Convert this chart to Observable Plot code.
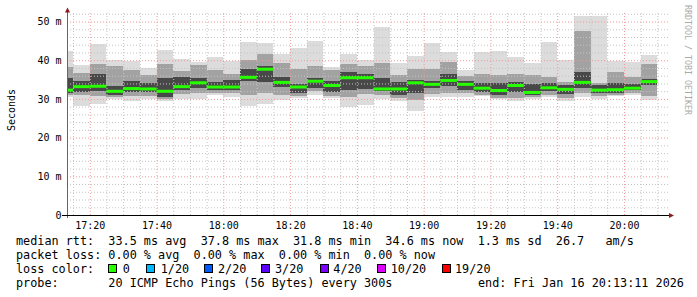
<!DOCTYPE html>
<html><head><meta charset="utf-8">
<script src="https://cdn.jsdelivr.net/npm/d3@7"></script>
<script src="https://cdn.jsdelivr.net/npm/@observablehq/plot@0.6"></script>
<style>
body{margin:0;background:#fff;}
#wrap{position:relative;width:697px;height:297px;overflow:hidden;font-family:"DejaVu Sans Mono",monospace;}
#wrap svg{position:absolute;left:0;top:0;}
.lg{position:absolute;left:16px;font-size:11.8px;line-height:14px;white-space:pre;color:#000;margin:0;}
.sq{position:absolute;width:7px;height:7px;border:1px solid #000;top:264px;}
.sl{position:absolute;font-size:11.8px;line-height:14px;white-space:pre;color:#000;top:262px;}
</style></head>
<body><div id="wrap"></div>
<script>
// 5-minute slots (start times), Fri Jan 16 2026
const slots = ["17:10","17:15","17:20","17:25","17:30","17:35","17:40","17:45","17:50","17:55",
  "18:00","18:05","18:10","18:15","18:20","18:25","18:30","18:35","18:40","18:45",
  "18:50","18:55","19:00","19:05","19:10","19:15","19:20","19:25","19:30","19:35",
  "19:40","19:45","19:50","19:55","20:00","20:05"];
// RTT in ms: smoke envelope (min..max), middle band, inner band, median
const maxV = [42.3,38.7,44.1,40.0,39.8,38.1,42.6,40.4,39.6,40.9,39.9,44.8,44.4,41.6,43.2,44.9,38.3,41.6,40.0,48.5,39.3,41.1,44.5,42.2,37.5,42.2,42.4,40.9,39.3,44.7,40.0,51.5,51.5,39.8,39.6,41.3];
const hi2  = [38.3,36.6,39.0,38.5,37.4,36.2,38.9,37.2,38.8,37.4,36.4,40.0,41.5,39.4,37.8,38.5,37.5,39.1,38.6,39.2,36.3,37.8,37.8,39.5,36.0,36.5,36.1,36.5,36.2,35.6,34.3,47.6,34.0,36.9,35.6,39.1];
const hi3  = [35.3,34.6,36.4,33.3,34.7,34.0,35.5,35.6,35.3,34.4,35.0,37.8,38.5,35.6,33.9,35.5,34.5,36.9,36.5,35.5,34.3,34.8,34.6,36.5,34.6,34.1,34.0,34.3,33.9,34.0,33.6,36.9,33.5,34.0,33.9,35.2];
const med  = [32.4,33.3,33.4,32.1,32.8,32.7,32.1,33.3,34.3,33.2,33.2,35.7,37.8,34.4,33.2,34.7,33.6,35.6,35.6,32.7,32.7,34.3,33.9,34.9,33.9,32.9,32.3,33.6,31.8,33.0,32.6,34.4,32.4,32.5,32.9,34.6];
const lo3  = [31.6,31.9,32.0,31.1,31.8,31.7,30.6,32.3,32.7,32.2,32.3,34.5,34.3,33.0,31.4,32.8,31.8,32.2,32.6,32.0,30.9,31.4,32.8,33.3,32.3,31.8,31.0,31.8,31.1,32.0,31.3,32.7,31.6,31.6,32.2,33.5];
const lo2  = [31.0,31.0,30.8,30.6,30.8,30.8,30.0,31.3,31.5,31.6,31.4,30.9,31.5,30.9,30.8,32.0,30.8,30.6,31.2,31.0,30.3,29.8,31.3,31.4,31.4,31.1,30.3,30.2,30.5,31.1,30.3,31.6,30.8,31.1,31.5,30.8];
const minV = [30.4,28.2,28.8,29.9,29.5,29.9,29.5,29.9,30.0,31.1,30.6,28.2,28.7,29.8,30.2,31.0,30.3,27.8,28.3,30.0,29.4,27.0,30.4,30.6,30.5,30.7,29.9,29.4,30.0,30.4,29.5,30.6,29.9,30.8,30.9,29.8];
const yTicks = [0,10,20,30,40,50];
const yTickLabels = ["0","10 m","20 m","30 m","40 m","50 m"];
const lossLabels = ["0","1/20","2/20","3/20","4/20","10/20","19/20"];
const lossColors = ["#26ff00","#00b8ff","#0059ff","#5e00ff","#7e00ff","#dd00ff","#ff0000"];
const legendLines = [
  "median rtt:  33.5 ms avg  37.8 ms max  31.8 ms min  34.6 ms now  1.3 ms sd  26.7   am/s",
  "packet loss: 0.00 % avg  0.00 % max  0.00 % min  0.00 % now",
  "loss color:",
  "probe:       20 ICMP Echo Pings (56 Bytes) every 300s"];
const endText = "end: Fri Jan 16 20:13:11 2026";

const T = (h, m, s = 0) => new Date(Date.UTC(2026, 0, 16, h, m, s));
const rows = slots.map((s, i) => {
  const [h, m] = s.split(":").map(Number);
  const a = T(h, m);
  return {x1: a, x2: new Date(+a + 300000), max: maxV[i], hi2: hi2[i], hi3: hi3[i], med: med[i], lo3: lo3[i], lo2: lo2[i], min: minV[i]};
});
const xDomain = [T(17, 13, 11), T(20, 13, 11)];
const majorX = d3.utcMinute.every(20).range(xDomain[0], xDomain[1]);
const minorX = d3.utcMinute.every(5).range(xDomain[0], xDomain[1]).filter(d => d.getUTCMinutes() % 20 !== 0);
const minorY = d3.range(2, 53, 2).filter(v => v % 10 !== 0);
const crisp = {shapeRendering: "crispEdges", inset: 0, clip: true};

const plot = Plot.plot({
  width: 697, height: 235,
  marginLeft: 67, marginRight: 29, marginTop: 13, marginBottom: 20,
  x: {type: "utc", domain: xDomain},
  y: {domain: [0, 52.2]},
  style: {fontFamily: "DejaVu Sans Mono, monospace", fontSize: "10px", color: "#000", background: "transparent", overflow: "visible"},
  marks: [
    Plot.rect(rows, {x1: "x1", x2: "x2", y1: "min", y2: "max", fill: "#dcdcdc", ...crisp}),
    Plot.rect(rows, {x1: "x1", x2: "x2", y1: "lo2", y2: "hi2", fill: "#a2a2a2", ...crisp}),
    Plot.rect(rows, {x1: "x1", x2: "x2", y1: "lo3", y2: "hi3", fill: "#484848", ...crisp}),
    Plot.ruleY(minorY, {stroke: "#c4c4c4", strokeDasharray: "1,2"}),
    Plot.ruleX(minorX, {stroke: "#c4c4c4", strokeDasharray: "1,2"}),
    Plot.ruleY(yTicks.filter(v => v > 0), {stroke: "#ef9a9a", strokeDasharray: "1,2"}),
    Plot.ruleX(majorX, {stroke: "#ef9a9a", strokeDasharray: "1,2"}),
    Plot.ruleY(rows, {x1: "x1", x2: "x2", y: "med", stroke: "#26ff00", strokeWidth: 3, clip: true}),
    Plot.axisY({ticks: yTicks, tickFormat: (d, i) => yTickLabels[yTicks.indexOf(d)], tickSize: 0, tickPadding: 6, label: null}),
    Plot.axisX({ticks: majorX, tickFormat: d3.utcFormat("%H:%M"), tickSize: 0, tickPadding: 6, label: null})
  ]
});
const wrap = document.getElementById("wrap");
wrap.appendChild(plot);

// axis lines, arrows, labels
const svg = d3.select(plot);
const xs = plot.scale("x"), ys = plot.scale("y");
const x0 = xs.apply(xDomain[0]), x1 = xs.apply(xDomain[1]), yb = ys.apply(0);
svg.append("line").attr("x1", x0 + 0.5).attr("x2", x0 + 0.5).attr("y1", yb + 3).attr("y2", 9).attr("stroke", "#666");
svg.append("line").attr("x1", x0 - 5).attr("x2", x1 + 2).attr("y1", yb + 0.5).attr("y2", yb + 0.5).attr("stroke", "#000");
svg.append("path").attr("d", `M${x0 - 2},${12.5}L${x0 + 3},${12.5}L${x0 + 0.5},${7.5}Z`).attr("fill", "#8b1a1a");
svg.append("path").attr("d", `M${x1 + 1},${yb - 2}L${x1 + 1},${yb + 3}L${x1 + 6},${yb + 0.5}Z`).attr("fill", "#8b1a1a");
svg.append("text").attr("transform", "translate(15,110) rotate(-90)").attr("text-anchor", "middle")
  .attr("font-family", "DejaVu Sans Mono").attr("font-size", 10).attr("fill", "#000").text("Seconds");
svg.append("text").attr("transform", "translate(685,5) rotate(90)").attr("text-anchor", "start")
  .attr("font-family", "DejaVu Sans Mono").attr("font-size", 8.3).attr("fill", "#aaa").text("RRDTOOL / TOBI OETIKER");

// legend
const lgTops = [234, 248, 262, 276];
legendLines.forEach((t, i) => {
  const d = document.createElement("div");
  d.className = "lg"; d.style.top = lgTops[i] + "px"; d.textContent = t; wrap.appendChild(d);
});
const sqX = [108, 146, 204, 261, 320, 377, 442];
const lbX = [122.7, 160.7, 218, 275, 333.3, 390.7, 455];
lossLabels.forEach((l, i) => {
  const s = document.createElement("div");
  s.className = "sq"; s.style.left = sqX[i] + "px"; s.style.background = lossColors[i]; wrap.appendChild(s);
  const t = document.createElement("div");
  t.className = "sl"; t.style.left = lbX[i] + "px"; t.textContent = l; wrap.appendChild(t);
});
const e = document.createElement("div");
e.className = "lg"; e.style.left = "478px"; e.style.top = "276px"; e.textContent = endText; wrap.appendChild(e);
</script></body></html>
